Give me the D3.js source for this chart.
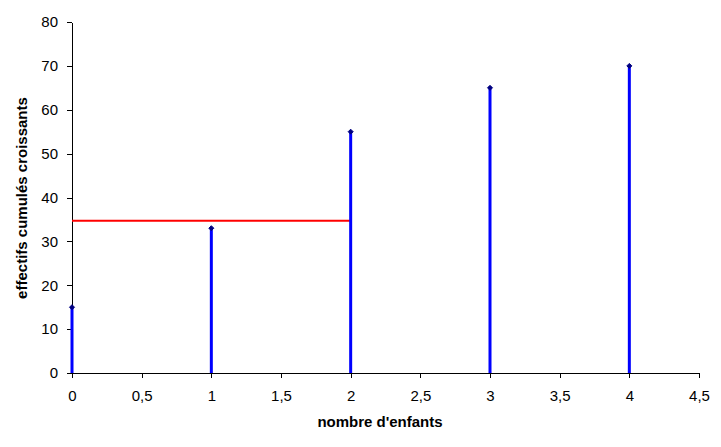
<!DOCTYPE html>
<html><head><meta charset="utf-8">
<script src="https://cdn.jsdelivr.net/npm/d3@7"></script>
<style>body{margin:0;background:#fff;} text{font-family:Arial,"Liberation Sans",sans-serif;}</style>
</head><body><svg id="c" width="721" height="447"></svg>
<script>
const children = [0, 1, 2, 3, 4];
const cumCounts = [15, 33, 55, 65, 70];
const medianLevel = 34.7;
const xTicks = [0, 0.5, 1, 1.5, 2, 2.5, 3, 3.5, 4, 4.5];
const yTicks = [0, 10, 20, 30, 40, 50, 60, 70, 80];

const svg = d3.select("#c");
const x = d3.scaleLinear().domain([0, 4.5]).range([72, 699]);
const y = d3.scaleLinear().domain([0, 80]).range([373, 22]);
const fmt = d => String(d).replace(".", ",");

const xa = svg.append("g").attr("transform", "translate(0,373)")
  .call(d3.axisBottom(x).tickValues(xTicks).tickFormat(fmt).tickSize(5).tickSizeOuter(0).tickPadding(12));
const ya = svg.append("g").attr("transform", "translate(72,0)")
  .call(d3.axisLeft(y).tickValues(yTicks).tickFormat(fmt).tickSize(5).tickSizeOuter(0).tickPadding(9));
[xa, ya].forEach(a => {
  a.selectAll("path,line").attr("stroke", "#000").attr("stroke-width", 1).attr("shape-rendering", "crispEdges");
  a.selectAll("text").attr("font-size", 15).attr("fill", "#000").attr("font-family", "Arial,'Liberation Sans',sans-serif");
});

// red median line
svg.append("line")
  .attr("x1", x(0)).attr("x2", x(2))
  .attr("y1", y(medianLevel)).attr("y2", y(medianLevel))
  .attr("stroke", "#ff0000").attr("stroke-width", 2);

// blue stems
svg.selectAll("line.stem").data(children).enter().append("line").attr("class", "stem")
  .attr("x1", d => x(d)).attr("x2", d => x(d))
  .attr("y1", y(0)).attr("y2", (d, i) => y(cumCounts[i]))
  .attr("stroke", "#0000ff").attr("stroke-width", 3);

// markers
svg.selectAll("path.mk").data(children).enter().append("path").attr("class", "mk")
  .attr("transform", (d, i) => `translate(${x(d)},${y(cumCounts[i])})`)
  .attr("d", "M-2.5,0L0,-2.5L2.5,0L0,2.5Z")
  .attr("fill", "#000080").attr("stroke", "#000080").attr("stroke-width", 1);

svg.append("text").attr("x", 380).attr("y", 427).attr("text-anchor", "middle")
  .attr("font-size", 15).attr("font-weight", "bold").text("nombre d'enfants");
svg.append("text").attr("transform", "translate(27,198) rotate(-90)").attr("text-anchor", "middle")
  .attr("font-size", 15).attr("font-weight", "bold").text("effectifs cumulés croissants");
</script></body></html>
